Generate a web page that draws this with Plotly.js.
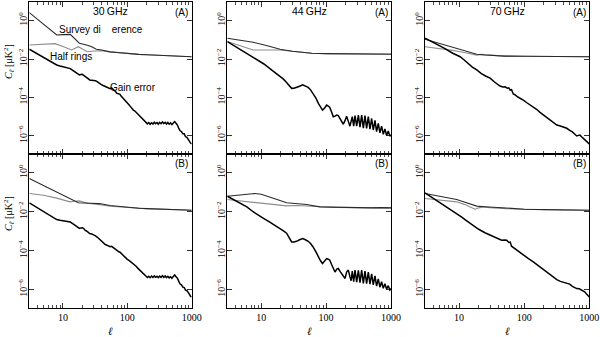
<!DOCTYPE html>
<html>
<head>
<meta charset="utf-8">
<script src="https://cdn.plot.ly/plotly-3.0.1.min.js"></script>
<style>body{margin:0;background:#fff;} #chart{width:600px;height:337px;}</style>
</head>
<body>
<div id="chart"></div>
<script>
// log10 of C_l, per panel and per curve

// 30 GHz
let ell30aSurvey = [3, 4, 5, 6, 7, 8, 10, 12, 13, 18, 21, 24, 28, 33, 40, 54, 70, 100, 150, 200, 300, 500, 700, 1000];
let c30aSurvey = [0.42, 0.08, -0.19, -0.41, -0.59, -0.75, -0.73, -0.71, -0.72, -1.18, -1.22, -1.28, -1.36, -1.49, -1.53, -1.63, -1.66, -1.72, -1.76, -1.78, -1.8, -1.84, -1.86, -1.88];
let ell30aHalf = [3, 5, 7.5, 10, 13.6, 15.5, 17.3, 20, 24, 30, 40, 54, 70, 100, 150, 200, 300, 500, 700, 1000];
let c30aHalf = [-1.27, -1.24, -1.2, -1.35, -1.53, -1.44, -1.36, -1.48, -1.62, -1.58, -1.57, -1.63, -1.67, -1.72, -1.76, -1.78, -1.8, -1.84, -1.86, -1.88];
let ell30bSurvey = [3, 4, 6, 8, 10, 13, 17.3, 25, 37, 54, 70, 100, 150, 200, 300, 500, 700, 1000];
let c30bSurvey = [-0.29, -0.5, -0.79, -0.99, -1.15, -1.33, -1.54, -1.56, -1.58, -1.68, -1.72, -1.78, -1.82, -1.84, -1.86, -1.89, -1.9, -1.92];
let ell30bHalf = [3, 5, 8, 10, 12.9, 15, 18, 22, 26, 35, 54, 70, 100, 150, 200, 300, 500, 700, 1000];
let c30bHalf = [-1.06, -1.15, -1.3, -1.38, -1.49, -1.46, -1.44, -1.52, -1.58, -1.62, -1.72, -1.74, -1.78, -1.82, -1.84, -1.86, -1.89, -1.9, -1.92];
let ell30Gain = [3, 4, 5, 6, 7, 8, 9, 10, 11, 12, 13, 14, 15, 16, 17, 18, 19, 20, 21, 22,
    24, 26, 28, 30, 32, 34, 36, 39, 42, 45, 48, 51, 54, 57, 60, 63, 66, 68, 71, 74,
    77, 80, 85, 90, 95, 100, 106, 112, 118, 124, 130, 137, 145, 152, 160, 168, 176, 185, 195, 205,
    215, 226, 238, 250, 262, 275, 289, 303, 318, 334, 351, 369, 387, 406, 426, 447, 470, 493, 518, 544,
    571, 600, 630, 661, 694, 729, 765, 803, 843, 885, 929, 960, 1000];
let c30aGain = [-1.49, -1.72, -1.92, -2.08, -2.2, -2.31, -2.36, -2.4, -2.44, -2.47,
    -2.5, -2.58, -2.66, -2.73, -2.79, -2.83, -2.81, -2.8, -2.85, -2.92,
    -3.0, -3.09, -3.1, -3.12, -3.13, -3.18, -3.25, -3.32, -3.38, -3.43,
    -3.47, -3.5, -3.55, -3.51, -3.58, -3.62, -3.7, -3.78, -3.8, -3.86,
    -3.84, -3.93, -4.02, -4.1, -4.2, -4.3, -4.38, -4.48, -4.58, -4.66,
    -4.7, -4.78, -4.88, -4.95, -5.02, -5.1, -5.18, -5.26, -5.32, -5.38,
    -5.31, -5.4, -5.32, -5.39, -5.29, -5.37, -5.31, -5.4, -5.3, -5.37,
    -5.28, -5.36, -5.3, -5.39, -5.31, -5.4, -5.33, -5.42, -5.34, -5.26,
    -5.35, -5.44, -5.62, -5.74, -5.78, -5.9, -5.9, -6.05, -6.08, -6.22,
    -6.28, -6.38, -6.42];
let c30bGain = [-1.54, -1.8, -2.0, -2.15, -2.3, -2.4, -2.44, -2.46, -2.48, -2.5,
    -2.53, -2.6, -2.68, -2.74, -2.8, -2.86, -2.83, -2.82, -2.86, -2.95,
    -3.02, -3.12, -3.14, -3.18, -3.24, -3.3, -3.38, -3.5, -3.6, -3.68,
    -3.72, -3.78, -3.8, -3.78, -3.84, -3.9, -3.92, -3.96, -4.0, -4.06,
    -4.08, -4.14, -4.22, -4.3, -4.38, -4.45, -4.5, -4.56, -4.62, -4.67,
    -4.73, -4.8, -4.9, -4.97, -5.05, -5.12, -5.2, -5.27, -5.33, -5.38,
    -5.32, -5.39, -5.31, -5.38, -5.3, -5.37, -5.32, -5.39, -5.31, -5.38,
    -5.29, -5.37, -5.3, -5.39, -5.32, -5.4, -5.34, -5.42, -5.33, -5.25,
    -5.34, -5.42, -5.58, -5.72, -5.76, -5.88, -5.9, -6.03, -6.06, -6.2,
    -6.26, -6.35, -6.38];

// 44 GHz
let ell44aUpper = [3, 5, 7.5, 12, 19.5, 30, 44, 60, 100, 200, 400, 500, 600, 700, 800, 900, 1000];
let c44aSurvey = [-0.92, -1.03, -1.13, -1.3, -1.49, -1.6, -1.67, -1.7, -1.72, -1.73, -1.74, -1.72, -1.75, -1.73, -1.76, -1.74, -1.75];
let c44aHalf = [-1.09, -1.33, -1.53, -1.53, -1.53, -1.6, -1.66, -1.7, -1.72, -1.73, -1.74, -1.73, -1.74, -1.75, -1.74, -1.75, -1.74];
let ell44bSurvey = [3, 5, 8, 10, 13.6, 18, 24.6, 35, 50, 80, 150, 300, 500, 700, 1000];
let c44bSurvey = [-1.2, -1.12, -1.06, -1.1, -1.23, -1.38, -1.54, -1.6, -1.63, -1.75, -1.78, -1.79, -1.8, -1.79, -1.8];
let ell44bHalf = [3, 5, 8.5, 13, 18, 24.6, 35, 50, 80, 150, 300, 500, 700, 1000];
let c44bHalf = [-1.37, -1.45, -1.54, -1.6, -1.66, -1.7, -1.68, -1.7, -1.76, -1.78, -1.79, -1.8, -1.79, -1.8];
let ell44Gain = [3, 4, 5, 6, 7.5, 9, 11, 13, 15, 17, 19.5, 22, 24.6, 27, 29.4, 32, 35, 39, 43.5, 48,
    53, 58, 63, 70, 76, 82, 88, 95, 102, 108, 114, 121, 129, 137, 146, 154, 165, 184, 196, 207,
    220, 233, 243, 253, 266, 279, 296, 314, 333, 353, 375, 397, 421, 447, 474, 503, 533, 566, 600, 637,
    675, 716, 760, 806, 855, 907, 960, 1000];
let c44aGain = [-1.09, -1.35, -1.55, -1.72, -1.88, -2.05, -2.26, -2.45, -2.6, -2.74,
    -2.92, -3.05, -3.23, -3.42, -3.53, -3.52, -3.49, -3.42, -3.35, -3.4,
    -3.48, -3.62, -3.79, -4.05, -4.31, -4.52, -4.66, -4.55, -4.4, -4.45,
    -4.52, -4.75, -5.01, -4.98, -4.92, -4.95, -5.15, -5.4, -5.2, -4.98,
    -5.25, -5.5, -5.25, -5.0, -5.5, -4.95, -5.5, -4.92, -5.55, -4.92,
    -5.6, -4.95, -5.62, -5.0, -5.65, -5.1, -5.7, -5.2, -5.78, -5.35,
    -5.85, -5.5, -5.92, -5.65, -5.98, -5.75, -6.02, -5.95];
let c44bGain = [-1.2, -1.42, -1.6, -1.75, -2.0, -2.15, -2.35, -2.5, -2.62, -2.75,
    -2.86, -2.98, -3.1, -3.35, -3.55, -3.55, -3.52, -3.44, -3.38, -3.44,
    -3.52, -3.65, -3.81, -4.08, -4.32, -4.52, -4.66, -4.54, -4.41, -4.44,
    -4.49, -4.7, -4.95, -5.1, -4.95, -4.92, -5.08, -5.3, -5.43, -5.1,
    -5.0, -5.35, -5.55, -5.05, -5.6, -5.0, -5.62, -5.02, -5.65, -5.0,
    -5.68, -5.05, -5.7, -5.1, -5.72, -5.2, -5.76, -5.3, -5.82, -5.45,
    -5.88, -5.6, -5.94, -5.7, -5.98, -5.8, -6.02, -5.95];

// 70 GHz
let ell70aSurvey = [3, 5, 8, 12, 18.7, 25, 35, 50, 100, 200, 300, 400, 550, 700, 850, 1000];
let c70aSurvey = [-0.97, -1.18, -1.38, -1.55, -1.75, -1.79, -1.82, -1.85, -1.86, -1.86, -1.87, -1.86, -1.88, -1.87, -1.88, -1.88];
let ell70aHalf = [3, 5, 8, 12, 18.7, 22, 30, 50, 100, 200, 300, 400, 550, 700, 850, 1000];
let c70aHalf = [-1.36, -1.44, -1.55, -1.66, -1.8, -1.76, -1.8, -1.85, -1.86, -1.86, -1.87, -1.86, -1.88, -1.87, -1.88, -1.88];
let ell70aGain = [3, 4, 5, 6, 8, 10.4, 12, 14, 16, 18.7, 22, 26, 30, 35, 42.6, 47, 51, 55, 58, 61,
    64, 68, 72, 80, 90, 97, 110, 125, 138, 155, 175, 200, 222, 250, 280, 317, 350, 400, 451, 500,
    550, 600, 641, 680, 720, 760, 800, 850, 900, 950, 1000];
let c70aGain = [-0.92, -1.13, -1.3, -1.45, -1.7, -1.88, -2.05, -2.25, -2.42, -2.57,
    -2.76, -2.9, -3.0, -3.2, -3.41, -3.46, -3.45, -3.52, -3.5, -3.62,
    -3.6, -3.82, -3.86, -3.98, -4.07, -4.14, -4.28, -4.4, -4.49, -4.62,
    -4.78, -4.92, -5.04, -5.15, -5.3, -5.44, -5.48, -5.56, -5.61, -5.72,
    -5.8, -5.92, -6.01, -5.98, -5.96, -6.05, -6.1, -6.2, -6.28, -6.36,
    -6.43];
let ell70bSurvey = [3, 5, 9.2, 12, 18.7, 25, 35, 54, 100, 200, 400, 700, 1000];
let c70bSurvey = [-1.06, -1.2, -1.37, -1.5, -1.71, -1.74, -1.78, -1.83, -1.87, -1.89, -1.9, -1.91, -1.92];
let ell70bHalf = [3, 5, 9.2, 12, 17.6, 20, 23.6, 30, 40, 54, 100, 200, 400, 700, 1000];
let c70bHalf = [-1.32, -1.4, -1.49, -1.62, -1.87, -1.8, -1.75, -1.79, -1.83, -1.84, -1.87, -1.89, -1.9, -1.91, -1.92];
let ell70bGain = [3, 4, 5, 6, 7.5, 9.2, 11, 12.5, 14.7, 17, 20, 25, 30, 36, 45, 50, 54, 58, 61, 64,
    71, 80, 90, 97, 115, 138, 160, 190, 222, 260, 290, 317, 360, 400, 451, 500, 550, 600, 641, 700,
    750, 800, 850, 900, 950, 1000];
let c70bGain = [-1.03, -1.3, -1.51, -1.69, -1.9, -2.09, -2.28, -2.42, -2.6, -2.75,
    -2.9, -3.08, -3.21, -3.33, -3.46, -3.45, -3.46, -3.58, -3.56, -3.77,
    -3.89, -4.02, -4.15, -4.24, -4.4, -4.58, -4.75, -4.92, -5.1, -5.28,
    -5.4, -5.49, -5.58, -5.62, -5.69, -5.72, -5.84, -5.9, -5.95, -5.96,
    -6.02, -6.05, -6.12, -6.22, -6.3, -6.38];

let freqs = ['30\u2009GHz', '44\u2009GHz', '70\u2009GHz'];
let tags = ['(A)', '(B)'];

// row-major: A row then B row; each panel = [half rings, survey difference, gain error]
let panels = [
    [[ell30aHalf, c30aHalf], [ell30aSurvey, c30aSurvey], [ell30Gain, c30aGain]],
    [[ell44aUpper, c44aHalf], [ell44aUpper, c44aSurvey], [ell44Gain, c44aGain]],
    [[ell70aHalf, c70aHalf], [ell70aSurvey, c70aSurvey], [ell70aGain, c70aGain]],
    [[ell30bHalf, c30bHalf], [ell30bSurvey, c30bSurvey], [ell30Gain, c30bGain]],
    [[ell44bHalf, c44bHalf], [ell44bSurvey, c44bSurvey], [ell44Gain, c44bGain]],
    [[ell70bHalf, c70bHalf], [ell70bSurvey, c70bSurvey], [ell70bGain, c70bGain]]
];
let names = ['Half rings', 'Survey difference', 'Gain error'];
let lineStyles = [
    {color: '#8c8c8c', width: 1.1},
    {color: '#2a2a2a', width: 1.1},
    {color: '#000000', width: 1.5}
];

// panel frames in pixels
let W = 600, H = 337;
let cols = [[29.3, 191.7], [227.3, 391], [425, 589.3]];
let rows = [[2, 154], [154, 308]];

let minorX = [4, 5, 6, 7, 8, 9, 20, 30, 40, 50, 60, 70, 80, 90, 200, 300, 400, 500, 600, 700, 800, 900];
let serif = 'Liberation Serif, Times New Roman, serif';
let sans = 'Liberation Sans, Arial, sans-serif';

let data = [];
let layout = {
    width: W,
    height: H,
    margin: {l: 0, r: 0, t: 0, b: 0},
    paper_bgcolor: '#fff',
    plot_bgcolor: '#fff',
    showlegend: false,
    annotations: []
};

panels.forEach(function(panel, i) {
    let r = Math.floor(i / 3);
    let c = i % 3;
    let sfx = i === 0 ? '' : String(i + 1);

    panel.forEach(function(s, k) {
        data.push({
            type: 'scatter',
            mode: 'lines',
            name: names[k],
            x: s[0],
            y: s[1].map(function(v) { return Math.pow(10, v); }),
            xaxis: 'x' + sfx,
            yaxis: 'y' + sfx,
            line: lineStyles[k],
            hoverinfo: 'skip'
        });
    });

    layout['xaxis' + sfx] = {
        type: 'log',
        domain: [cols[c][0] / W, cols[c][1] / W],
        range: [Math.log10(3), 3],
        anchor: 'y' + sfx,
        showline: true, linecolor: '#000', linewidth: 1, mirror: 'ticks',
        ticks: 'inside', ticklen: 5, tickcolor: '#000', tickwidth: 0.8,
        tickmode: 'array', tickvals: [10, 100, 1000], ticktext: ['10', '100', '1000'],
        showticklabels: r === 1,
        tickfont: {family: serif, size: 10, color: '#000'},
        minor: {tickmode: 'array', tickvals: minorX, ticks: 'inside', ticklen: 3, tickcolor: '#000', tickwidth: 0.7, showgrid: false},
        showgrid: false, zeroline: false, fixedrange: true
    };
    layout['yaxis' + sfx] = {
        type: 'log',
        domain: [1 - rows[r][1] / H, 1 - rows[r][0] / H],
        range: [-6.95, 0.97],
        anchor: 'x' + sfx,
        showline: true, linecolor: '#000', linewidth: 1, mirror: 'ticks',
        ticks: 'inside', ticklen: 5, tickcolor: '#000', tickwidth: 0.8,
        tickmode: 'array', tickvals: [1, 1e-2, 1e-4, 1e-6],
        ticktext: ['10<sup>0</sup>', '10<sup>\u22122</sup>', '10<sup>\u22124</sup>', '10<sup>\u22126</sup>'],
        tickangle: -90,
        ticklabelstandoff: -3,
        tickfont: {family: serif, size: 10, color: '#000'},
        showgrid: false, zeroline: false, fixedrange: true
    };

    let xMid = (cols[c][0] + cols[c][1]) / 2 / W;
    if (r === 0) {
        layout.annotations.push({
            xref: 'paper', yref: 'paper', x: xMid, y: 1 - 11 / H,
            text: freqs[c], showarrow: false, xanchor: 'center', yanchor: 'middle',
            font: {family: sans, size: 10.5, color: '#000'}
        });
    } else {
        layout.annotations.push({
            xref: 'paper', yref: 'paper', x: xMid, y: 1 - 331 / H,
            text: '<i>\u2113</i>', showarrow: false, xanchor: 'center', yanchor: 'middle',
            font: {family: serif, size: 11, color: '#000'}
        });
    }
    layout.annotations.push({
        xref: 'paper', yref: 'paper', x: (cols[c][1] - 1.5) / W, y: 1 - (rows[r][0] + 10) / H,
        text: tags[r], showarrow: false, xanchor: 'right', yanchor: 'middle',
        font: {family: sans, size: 10, color: '#000'}
    });
    if (c === 0) {
        layout.annotations.push({
            xref: 'paper', yref: 'paper', x: 9 / W, y: 1 - (rows[r][0] + 60) / H,
            text: '<i>C</i><sub><i>\u2113</i></sub> [\u03bcK<sup>2</sup>]', textangle: -90,
            showarrow: false, xanchor: 'center', yanchor: 'middle',
            font: {family: serif, size: 10, color: '#000'}
        });
    }
});

// curve labels in the 30 GHz (A) panel
let curveLabels = [
    ['Survey di\u00a0\u00a0\u00a0\u00a0erence', 56.5, 29.3],
    ['Half rings', 48.3, 56.7],
    ['Gain error', 108.3, 87.3]
];
curveLabels.forEach(function(l) {
    layout.annotations.push({
        xref: 'paper', yref: 'paper', x: l[1] / W, y: 1 - l[2] / H,
        text: l[0], showarrow: false, xanchor: 'left', yanchor: 'middle',
        font: {family: sans, size: 10, color: '#000'}
    });
});

Plotly.newPlot('chart', data, layout, {staticPlot: true, displayModeBar: false});
</script>
</body>
</html>
